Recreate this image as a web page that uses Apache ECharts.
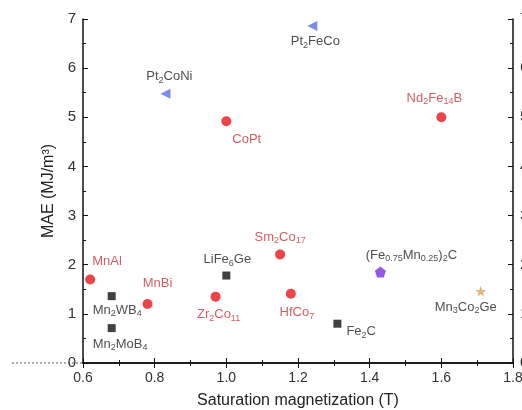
<!DOCTYPE html>
<html><head><meta charset="utf-8">
<script src="https://cdn.jsdelivr.net/npm/echarts@6/dist/echarts.min.js"></script>
<style>html,body{margin:0;padding:0;background:#fff}#c{width:522px;height:410px}</style>
</head><body><div id="c"></div>
<script>
// ---- data ----
const redNames = ['MnAl','MnBi','Zr2Co11','Sm2Co17','HfCo7','CoPt','Nd2Fe14B'];
const redX = [0.62, 0.78, 0.97, 1.15, 1.18, 1.00, 1.60];
const redY = [1.70, 1.20, 1.35, 2.21, 1.41, 4.92, 5.00];
const blackNames = ['Mn2WB4','Mn2MoB4','LiFe6Ge','Fe2C'];
const blackX = [0.68, 0.68, 1.00, 1.31];
const blackY = [1.36, 0.71, 1.78, 0.80];
const blueNames = ['Pt2CoNi','Pt2FeCo'];
const blueX = [0.83, 1.24];
const blueY = [5.48, 6.86];
const purpleNames = ['(Fe0.75Mn0.25)2C'];
const purpleX = [1.43];
const purpleY = [1.85];
const goldNames = ['Mn3Co2Ge'];
const goldX = [1.71];
const goldY = [1.46];
const xTicks = [0.6, 0.8, 1.0, 1.2, 1.4, 1.6, 1.8];
const yTicks = [0, 1, 2, 3, 4, 5, 6, 7];
const xTitle = 'Saturation magnetization (T)';
const yTitle = 'MAE (MJ/m³)';
// label text (rich, with subscripts)
const richText = {
  'MnAl':'MnAl', 'MnBi':'MnBi', 'Zr2Co11':'Zr{s|2}Co{s|11}', 'Sm2Co17':'Sm{s|2}Co{s|17}',
  'HfCo7':'HfCo{s|7}', 'CoPt':'CoPt', 'Nd2Fe14B':'Nd{s|2}Fe{s|14}B',
  'Mn2WB4':'Mn{s|2}WB{s|4}', 'Mn2MoB4':'Mn{s|2}MoB{s|4}', 'LiFe6Ge':'LiFe{s|6}Ge', 'Fe2C':'Fe{s|2}C',
  'Pt2CoNi':'Pt{s|2}CoNi', 'Pt2FeCo':'Pt{s|2}FeCo',
  '(Fe0.75Mn0.25)2C':'(Fe{s|0.75}Mn{s|0.25}){s|2}C', 'Mn3Co2Ge':'Mn{s|3}Co{s|2}Ge'
};
// ---- label layout (style) ----
const labelLayout = {
  'MnAl':{o:[2,-18],a:'left'}, 'MnBi':{o:[10,-21],a:'center'}, 'Zr2Co11':{o:[3,18],a:'center'},
  'Sm2Co17':{o:[0,-17],a:'center'}, 'HfCo7':{o:[6,19],a:'center'}, 'CoPt':{o:[6,18],a:'left'},
  'Nd2Fe14B':{o:[-7,-19],a:'center'}, 'Mn2WB4':{o:[-19,14],a:'left'}, 'Mn2MoB4':{o:[-19,16],a:'left'},
  'LiFe6Ge':{o:[1,-16],a:'center'}, 'Fe2C':{o:[9,8],a:'left'}, 'Pt2CoNi':{o:[4,-17],a:'center'},
  'Pt2FeCo':{o:[3,16],a:'center'}, '(Fe0.75Mn0.25)2C':{o:[31,-17],a:'center'}, 'Mn3Co2Ge':{o:[-15,16],a:'center'}
};
const FONT = '"Liberation Sans", Arial, sans-serif';
function build(names, xs, ys) {
  return names.map((n, i) => ({
    name: n, value: [xs[i], ys[i]],
    label: { offset: labelLayout[n].o, align: labelLayout[n].a }
  }));
}
function lab(color) {
  return {
    show: true, position: 'inside', verticalAlign: 'middle',
    fontFamily: FONT, fontSize: 13, color: color,
    formatter: p => richText[p.name],
    rich: { s: { fontSize: 9, color: color, fontFamily: FONT, padding: [7, 0, 0, 0] } }
  };
}
const pentagon = 'path://M50,0 L97.6,34.5 L79.4,90.5 L20.6,90.5 L2.4,34.5 Z';
const star = 'path://M50,0 L61.8,35.5 L98,35.5 L69,57.5 L79.5,92 L50,71 L20.5,92 L31,57.5 L2,35.5 L38.2,35.5 Z';

const axisLine = { show: true, lineStyle: { color: '#111', width: 1.5 } };
const chart = echarts.init(document.getElementById('c'), null, { renderer: 'canvas' });
const option = {
  animation: false,
  backgroundColor: '#fff',
  grid: { left: 83, right: 9, top: 19, bottom: 47, containLabel: false, outerBoundsMode: 'none' },
  xAxis: [{
    type: 'value', min: xTicks[0], max: xTicks[xTicks.length - 1], interval: 0.2,
    name: xTitle, nameLocation: 'middle', nameGap: 30,
    nameTextStyle: { fontFamily: FONT, fontSize: 16, color: '#222' },
    axisLine: axisLine, splitLine: { show: false },
    axisTick: { inside: true, length: 5, lineStyle: { color: '#111' } },
    minorTick: { show: true, splitNumber: 2, length: 3, lineStyle: { color: '#111' } },
    axisLabel: { margin: 8, fontFamily: FONT, fontSize: 14, color: '#333', formatter: v => v.toFixed(1) }
  }, {
    type: 'value', position: 'top', min: xTicks[0], max: xTicks[xTicks.length - 1], interval: 0.2,
    axisLine: axisLine, splitLine: { show: false },
    axisTick: { inside: true, length: 5, lineStyle: { color: '#111' } },
    minorTick: { show: true, splitNumber: 2, length: 3, lineStyle: { color: '#111' } },
    axisLabel: { show: false }
  }],
  yAxis: [{
    type: 'value', min: yTicks[0], max: yTicks[yTicks.length - 1], interval: 1,
    name: yTitle, nameLocation: 'middle', nameGap: 13,
    nameTextStyle: { fontFamily: FONT, fontSize: 16, color: '#222' },
    axisLine: axisLine, splitLine: { show: false },
    axisTick: { inside: true, length: 5, lineStyle: { color: '#111' } },
    minorTick: { show: true, splitNumber: 2, length: 3, lineStyle: { color: '#111' } },
    axisLabel: { margin: 7, fontFamily: FONT, fontSize: 15, color: '#333' }
  }, {
    type: 'value', position: 'right', min: yTicks[0], max: yTicks[yTicks.length - 1], interval: 1,
    axisLine: axisLine, splitLine: { show: false },
    axisTick: { inside: true, length: 5, lineStyle: { color: '#111' } },
    minorTick: { show: true, splitNumber: 2, length: 3, lineStyle: { color: '#111' } },
    axisLabel: { margin: 7, fontFamily: FONT, fontSize: 15, color: '#333' }
  }],
  series: [
    { type: 'scatter', name: 'red', symbol: 'circle', symbolSize: 10,
      itemStyle: { color: '#e8141c' }, label: lab('#c9343a'), data: build(redNames, redX, redY) },
    { type: 'scatter', name: 'black', symbol: 'rect', symbolSize: 8,
      itemStyle: { color: '#111' }, label: lab('#222'), data: build(blackNames, blackX, blackY) },
    { type: 'scatter', name: 'blue', symbol: 'triangle', symbolSize: 10, symbolRotate: 90,
      itemStyle: { color: '#5b6ee6' }, label: lab('#222'), data: build(blueNames, blueX, blueY) },
    { type: 'scatter', name: 'purple', symbol: pentagon, symbolSize: 11,
      itemStyle: { color: '#7a2ee0' }, label: lab('#222'), data: build(purpleNames, purpleX, purpleY) },
    { type: 'scatter', name: 'gold', symbol: star, symbolSize: 11,
      itemStyle: { color: '#d9a85a' }, label: lab('#222'), data: build(goldNames, goldX, goldY) }
  ]
};
chart.setOption(option);
// dotted guide line at y = 0 extending left of the plot
const p0 = chart.convertToPixel({ xAxisIndex: 0, yAxisIndex: 0 }, [xTicks[0], yTicks[0]]);
chart.setOption({
  graphic: [{
    type: 'line', z: -1, silent: true,
    shape: { x1: 12, y1: p0[1], x2: p0[0], y2: p0[1] },
    style: { stroke: '#555', lineWidth: 1, lineDash: [2, 2] }
  }]
});
</script>
</body></html>
